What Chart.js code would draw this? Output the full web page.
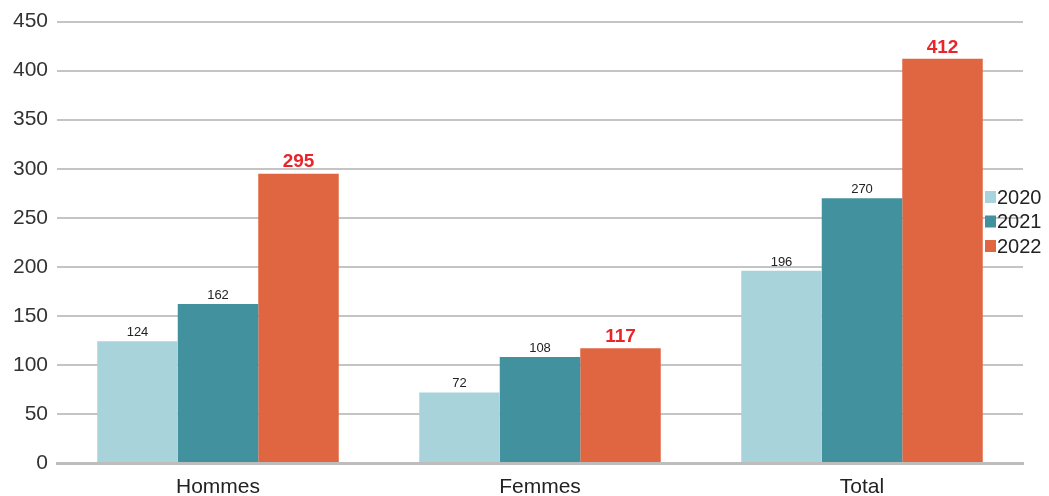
<!DOCTYPE html>
<html>
<head>
<meta charset="utf-8">
<script src="https://cdn.jsdelivr.net/npm/chart.js@4"></script>
<style>
  body { margin: 0; background: #fff; }
</style>
</head>
<body>
<canvas id="myChart" width="1049" height="496"></canvas>
<script>
const categories = ['Hommes', 'Femmes', 'Total']
const years = ['2020', '2021', '2022']
const values2020 = [124, 72, 196]
const values2021 = [162, 108, 270]
const values2022 = [295, 117, 412]
const yTicks = [0, 50, 100, 150, 200, 250, 300, 350, 400, 450]

const colors = ['#a9d3db', '#41929e', '#df6640']
const fontFam = '"Liberation Sans", Arial, sans-serif'

// labels above the bars, small black for 2020/2021, big red for 2022
const barLabels = {
  id: 'barLabels',
  afterDatasetsDraw(chart) {
    const ctx = chart.ctx
    ctx.save()
    ctx.textAlign = 'center'
    ctx.textBaseline = 'bottom'
    chart.data.datasets.forEach((ds, i) => {
      const meta = chart.getDatasetMeta(i)
      meta.data.forEach((bar, j) => {
        if (i == 2) {
          ctx.font = 'bold 19px ' + fontFam
          ctx.fillStyle = '#e8262a'
        } else {
          ctx.font = '13px ' + fontFam
          ctx.fillStyle = '#222'
        }
        ctx.fillText(ds.data[j], bar.x, bar.y - 2)
      })
    })
    ctx.restore()
  }
}

// legend sits over the right end of the plot
const sideLegend = {
  id: 'sideLegend',
  afterDraw(chart) {
    const ctx = chart.ctx
    ctx.save()
    ctx.font = '20px ' + fontFam
    ctx.textBaseline = 'middle'
    ctx.textAlign = 'left'
    chart.data.datasets.forEach((ds, i) => {
      const y = 197 + i * 24.5
      ctx.fillStyle = ds.backgroundColor
      ctx.fillRect(985, y - 6, 11, 12)
      ctx.fillStyle = '#222'
      ctx.fillText(ds.label, 997, y + 1)
    })
    ctx.restore()
  }
}

new Chart('myChart', {
  type: 'bar',
  data: {
    labels: categories,
    datasets: [
      { label: years[0], data: values2020, backgroundColor: colors[0] },
      { label: years[1], data: values2021, backgroundColor: colors[1] },
      { label: years[2], data: values2022, backgroundColor: colors[2] }
    ]
  },
  options: {
    responsive: false,
    animation: false,
    layout: { padding: { top: 18, right: 26, left: 4, bottom: 0 } },
    datasets: { bar: { categoryPercentage: 0.75, barPercentage: 1 } },
    plugins: {
      legend: { display: false },
      tooltip: { enabled: false }
    },
    scales: {
      x: {
        afterFit: (scale) => { scale.height = 33 },
        grid: { display: false, drawTicks: false },
        border: { color: '#bdbdbd', width: 3 },
        ticks: {
          color: '#222',
          padding: 12,
          font: { size: 21, family: fontFam }
        }
      },
      y: {
        min: 0,
        max: 450,
        afterBuildTicks: (axis) => { axis.ticks = yTicks.map(v => ({ value: v })) },
        afterFit: (scale) => { scale.width = 53 },
        grid: { color: '#c4c4c4', lineWidth: 2, drawTicks: false },
        border: { display: false },
        ticks: {
          color: '#333',
          padding: 9,
          font: { size: 21, family: fontFam }
        }
      }
    }
  },
  plugins: [barLabels, sideLegend]
})
</script>
</body>
</html>
